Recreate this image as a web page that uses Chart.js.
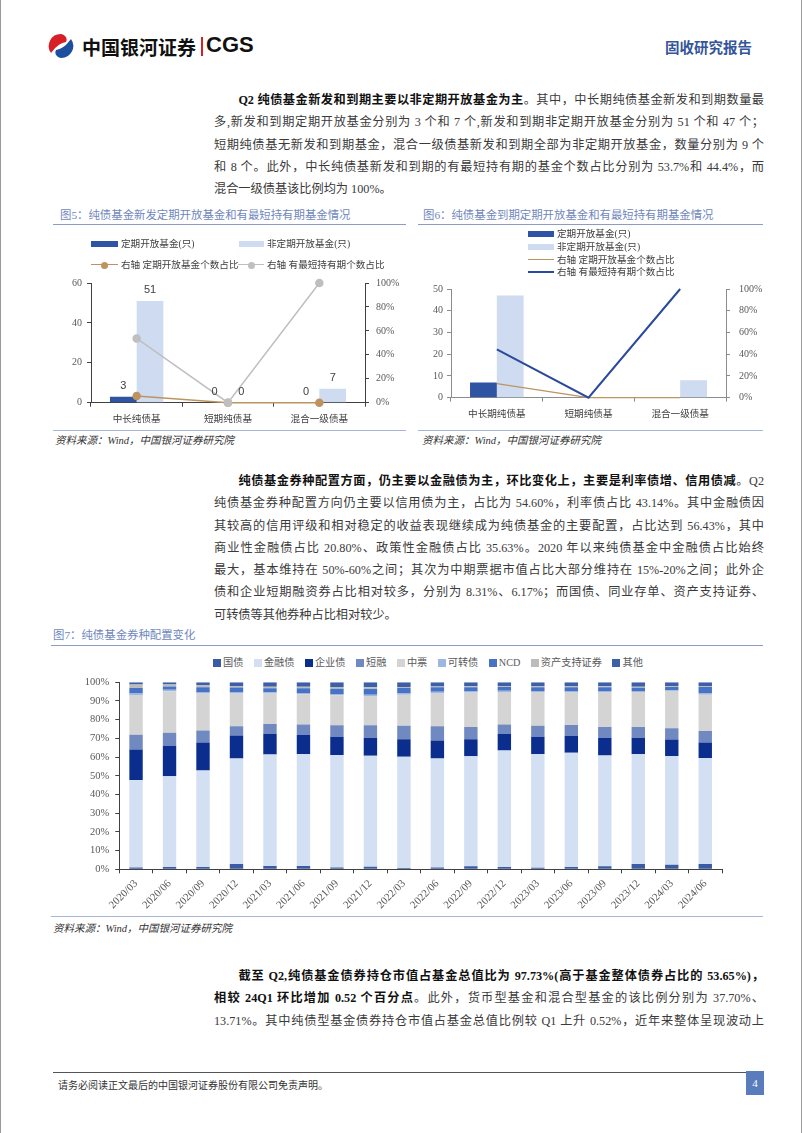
<!DOCTYPE html>
<html lang="zh-CN">
<head>
  <meta charset="utf-8">
  <title>纯债基金券种配置 - 固收研究报告</title>
  <style type="text/css">
    body {
      margin: 0;
      background-color: #ffffff;
    }
    #page {
      position: relative;
      width: 802px;
      height: 1133px;
      overflow: hidden;
      box-sizing: border-box;
      border-left: 1px solid #9a9a9a;
      border-right: 1px solid #9a9a9a;
      font-family: 'Liberation Serif', 'Noto Sans CJK SC', serif;
      color: #3a3a3a;
    }
    .abs { position: absolute; }
    .para { position: absolute; left: 213px; width: 550px; font-size: 12.2px; line-height: 22.3px; }
    .para div { white-space: nowrap; }
    .para .j { text-align: justify; text-align-last: justify; white-space: normal; }
    .para .ind { text-indent: 2em; }
    .para b { color: #111111; }
    .figtitle { position: absolute; font-size: 11.4px; color: #6f87bd; white-space: nowrap; }
    .rule { position: absolute; height: 0; border-top: 1.5px solid #8c9cc4; }
    .source { position: absolute; font-size: 10.5px; font-style: italic; color: #333333; white-space: nowrap; }
    .lg { position: absolute; font-size: 9.6px; color: #404040; white-space: nowrap; line-height: 12px; }
    canvas { position: absolute; }
  </style>
  <script src="https://cdn.jsdelivr.net/npm/chart.js"></script>
</head>
<body>
<div id="page">
  <!-- 页眉 -->
  <svg class="abs" style="left:46px;top:32px" width="28" height="28" viewBox="0 0 28 28">
    <path d="M14 2 A12 12 0 0 0 4 21 C8 16 11 12 19 10 C21 6 18 3 14 2Z" fill="#d71f26"/>
    <path d="M14 26 A12 12 0 0 0 24 7 C20 12 17 16 9 18 C7 22 10 25 14 26Z" fill="#1d4fa0"/>
  </svg>
  <div class="abs" style="left:81px;top:33px;font:bold 19px 'Noto Sans CJK SC';color:#111;white-space:nowrap">中国银河证券</div>
  <div class="abs" style="left:200px;top:37px;width:2px;height:19px;background:#d71f26"></div>
  <div class="abs" style="left:205px;top:32px;font:bold 22px 'Liberation Sans',sans-serif;color:#111">CGS</div>
  <div class="abs" style="left:664px;top:36px;font:bold 14.5px 'Noto Sans CJK SC';color:#34559a;white-space:nowrap">固收研究报告</div>

  <!-- 正文一 -->
  <div class="para" style="top:89px">
    <div class="j ind"><b>Q2 纯债基金新发和到期主要以非定期开放基金为主</b>。其中，中长期纯债基金新发和到期数量最</div>
    <div class="j">多,新发和到期定期开放基金分别为 3 个和 7 个,新发和到期非定期开放基金分别为 51 个和 47 个；</div>
    <div class="j">短期纯债基无新发和到期基金，混合一级债基新发和到期全部为非定期开放基金，数量分别为 9 个</div>
    <div class="j">和 8 个。此外，中长纯债基新发和到期的有最短持有期的基金个数占比分别为 53.7%和 44.4%，而</div>
    <div>混合一级债基该比例均为 100%。</div>
  </div>

  <!-- 图5 -->
  <div class="figtitle" style="left:59px;top:206px">图5：纯债基金新发定期开放基金和有最短持有期基金情况</div>
  <div class="rule" style="left:52px;top:224px;width:353px"></div>
  <canvas id="chart5" width="353" height="160" style="left:52px;top:270px"></canvas>
  <div class="rule" style="left:52px;top:430px;width:353px;border-color:#a8b6d6"></div>
  <div class="source" style="left:54px;top:432px">资料来源：Wind，中国银河证券研究院</div>

  <!-- 图6 -->
  <div class="figtitle" style="left:422px;top:206px">图6：纯债基金到期定期开放基金和有最短持有期基金情况</div>
  <div class="rule" style="left:417px;top:224px;width:345px"></div>
  <canvas id="chart6" width="350" height="156" style="left:412px;top:274px"></canvas>
  <div class="rule" style="left:417px;top:430px;width:345px;border-color:#a8b6d6"></div>
  <div class="source" style="left:421px;top:432px">资料来源：Wind，中国银河证券研究院</div>

  <!-- 正文二 -->
  <div class="para" style="top:470px">
    <div class="j ind"><b>纯债基金券种配置方面，仍主要以金融债为主，环比变化上，主要是利率债增、信用债减</b>。Q2</div>
    <div class="j">纯债基金券种配置方向仍主要以信用债为主，占比为 54.60%，利率债占比 43.14%。其中金融债因</div>
    <div class="j">其较高的信用评级和相对稳定的收益表现继续成为纯债基金的主要配置，占比达到 56.43%，其中</div>
    <div class="j">商业性金融债占比 20.80%、政策性金融债占比 35.63%。2020 年以来纯债基金中金融债占比始终</div>
    <div class="j">最大，基本维持在 50%-60%之间；其次为中期票据市值占比大部分维持在 15%-20%之间；此外企</div>
    <div class="j">债和企业短期融资券占比相对较多，分别为 8.31%、6.17%；而国债、同业存单、资产支持证券、</div>
    <div>可转债等其他券种占比相对较少。</div>
  </div>

  <!-- 图7 -->
  <div class="figtitle" style="left:52px;top:626px">图7：纯债基金券种配置变化</div>
  <div class="rule" style="left:50px;top:645px;width:712px"></div>
  <div id="legend7" class="abs" style="left:212px;top:657px;display:flex;gap:10.5px;font-size:10.2px;line-height:12px;color:#595959;white-space:nowrap"></div>
  <canvas id="chart7" width="710" height="245" style="left:52px;top:670px"></canvas>
  <div class="rule" style="left:50px;top:916px;width:712px;border-color:#a8b6d6"></div>
  <div class="source" style="left:52px;top:920px">资料来源：Wind，中国银河证券研究院</div>

  <!-- 正文三 -->
  <div class="para" style="top:965px">
    <div class="j ind"><b>截至 Q2,纯债基金债券持仓市值占基金总值比为 97.73%(高于基金整体债券占比的 53.65%)，</b></div>
    <div class="j"><b>相较 24Q1 环比增加 0.52 个百分点</b>。此外，货币型基金和混合型基金的该比例分别为 37.70%、</div>
    <div class="j">13.71%。其中纯债型基金债券持仓市值占基金总值比例较 Q1 上升 0.52%，近年来整体呈现波动上</div>
  </div>

  <!-- 页脚 -->
  <div class="abs" style="left:52px;top:1072px;width:711px;border-top:1.5px solid #555"></div>
  <div class="abs" style="left:57px;top:1077px;font-size:10px;color:#333;white-space:nowrap">请务必阅读正文最后的中国银河证券股份有限公司免责声明。</div>
  <div class="abs" style="left:745px;top:1071px;width:18px;height:24px;background:#5b7cbc;color:#fff;font-size:11px;line-height:24px;text-align:center">4</div>
</div>

<script>
  // 图5：新发
  const cat5 = ['中长纯债基', '短期纯债基', '混合一级债基'];
  const open5 = [3, 0, 0];
  const nonOpen5 = [51, 0, 7];
  const openRatio5 = [0.056, 0, 0];
  const minHold5 = [0.537, 0, 1];

  // 图6：到期
  const cat6 = ['中长期纯债基', '短期纯债基', '混合一级债基'];
  const open6 = [7, 0, 0];
  const nonOpen6 = [47, 0, 8];
  const openRatio6 = [0.13, 0, 0];
  const minHold6 = [0.444, 0, 1];

  const names56 = ['定期开放基金(只)', '非定期开放基金(只)', '右轴 定期开放基金个数占比', '右轴 有最短持有期个数占比'];

  // 图7：券种配置(%)
  const dates7 = ['2020/03', '2020/06', '2020/09', '2020/12', '2021/03', '2021/06', '2021/09', '2021/12', '2022/03',
                  '2022/06', '2022/09', '2022/12', '2023/03', '2023/06', '2023/09', '2023/12', '2024/03', '2024/06'];
  const names7 = ['国债', '金融债', '企业债', '短融', '中票', '可转债', 'NCD', '资产支持证券', '其他'];
  const guozhai = [0.9, 1.2, 1.2, 2.8, 1.8, 1.8, 1.0, 1.4, 0.7, 1.0, 1.6, 1.2, 0.8, 1.2, 1.6, 2.8, 2.4, 2.9];
  const jinrong = [46.9, 48.6, 51.7, 56.5, 59.6, 59.8, 60.1, 59.3, 59.5, 58.3, 58.8, 62.3, 60.8, 61.1, 59.3, 58.8, 58.2, 56.6];
  const qiye = [16.2, 16.3, 14.9, 12.2, 10.9, 10.2, 9.8, 9.5, 9.4, 9.6, 9.2, 8.8, 9.3, 9.0, 9.3, 8.6, 8.8, 8.3];
  const duanrong = [8.0, 6.9, 6.4, 5.0, 5.4, 5.7, 6.1, 6.8, 7.2, 7.6, 6.5, 5.2, 5.9, 5.9, 5.9, 5.9, 6.0, 6.2];
  const zhongpiao = [21.0, 22.2, 19.8, 17.5, 16.3, 16.1, 16.1, 15.7, 16.6, 17.8, 18.4, 17.3, 18.0, 17.6, 18.7, 18.7, 19.9, 19.4];
  const kezhuan = [1.0, 0.8, 0.6, 0.8, 0.7, 0.7, 0.7, 0.6, 0.6, 0.7, 0.6, 0.7, 0.6, 0.6, 0.6, 0.6, 0.5, 0.6];
  const ncd = [3.0, 1.8, 2.8, 2.4, 2.1, 2.5, 2.7, 3.1, 3.0, 2.3, 2.3, 2.0, 2.0, 2.0, 1.9, 1.7, 1.7, 3.5];
  const abs = [1.8, 1.0, 1.1, 0.8, 0.8, 0.8, 1.0, 0.9, 0.5, 0.5, 0.5, 0.5, 0.6, 0.6, 0.6, 0.5, 0.5, 0.5];
  const qita = [1.2, 1.2, 1.5, 2.0, 2.4, 2.4, 2.5, 2.7, 2.5, 2.2, 2.1, 2.0, 2.0, 2.0, 2.1, 2.4, 2.0, 2.0];
  const colors7 = ['#3a5ca5', '#d3dff2', '#0b2e8e', '#7089c1', '#d4d4d4', '#9db6e2', '#4673c6', '#bcbcbc', '#3c5fa8'];

  const DARK = '#2f54a3';
  const LIGHT = '#cfdbf0';
  const BROWN = '#bd9460';

  Chart.defaults.animation = false;
  Chart.defaults.font.family = "'Liberation Serif', 'Noto Sans CJK SC', serif";
  Chart.defaults.plugins.legend.display = false;
  Chart.defaults.plugins.tooltip.enabled = false;

  const page = document.getElementById('page');
  function legendItem(x, y, kind, color, text, w) {
    const mark = document.createElement('div');
    mark.className = 'abs';
    if (kind === 'box') {
      mark.style.cssText = 'left:' + x + 'px;top:' + (y - 3) + 'px;width:' + w + 'px;height:6px;background:' + color;
    } else {
      mark.style.cssText = 'left:' + x + 'px;top:' + (y - 0.75) + 'px;width:' + w + 'px;height:0;border-top:' + (kind === 'thick' ? 2 : 1.5) + 'px solid ' + color;
    }
    page.appendChild(mark);
    if (kind === 'dot') {
      const dot = document.createElement('div');
      dot.className = 'abs';
      dot.style.cssText = 'left:' + (x + w / 2 - 3.5) + 'px;top:' + (y - 3.5) + 'px;width:7px;height:7px;border-radius:50%;background:' + color;
      page.appendChild(dot);
    }
    const t = document.createElement('div');
    t.className = 'lg';
    t.style.left = (x + w + 3) + 'px';
    t.style.top = (y - 6) + 'px';
    t.textContent = text;
    page.appendChild(t);
  }
  // 图5图例
  legendItem(90, 243.5, 'box', DARK, names56[0], 27);
  legendItem(238, 243.5, 'box', LIGHT, names56[1], 25);
  legendItem(90, 265, 'dot', BROWN, names56[2], 27);
  legendItem(237, 265, 'dot', '#bfbfbf', names56[3], 26);
  // 图6图例
  legendItem(527, 234.3, 'box', DARK, names56[0], 26);
  legendItem(527, 246.7, 'box', LIGHT, names56[1], 26);
  legendItem(527, 260, 'line', BROWN, names56[2], 26);
  legendItem(527, 272, 'thick', '#2b4a9b', names56[3], 26);
  // 图7图例
  const lg7 = document.getElementById('legend7');
  names7.forEach(function (n, i) {
    const s = document.createElement('span');
    s.innerHTML = '<span style="display:inline-block;width:8px;height:8px;margin-right:2px;vertical-align:-1px;background:' + colors7[i] + '"></span>' + n;
    lg7.appendChild(s);
  });

  // 柱顶数值
  const valueLabels = {
    id: 'valueLabels',
    afterDatasetsDraw(chart) {
      const ctx = chart.ctx;
      ctx.save();
      ctx.font = "11px 'Liberation Sans', sans-serif";
      ctx.fillStyle = '#404040';
      ctx.textAlign = 'center';
      ctx.textBaseline = 'alphabetic';
      chart.data.datasets.forEach(function (ds, i) {
        if (ds.type !== 'bar') return;
        chart.getDatasetMeta(i).data.forEach(function (bar, j) {
          ctx.fillText(ds.data[j], bar.x, bar.y - 8);
        });
      });
      ctx.restore();
    }
  };

  function axisStyle(color, pad, size) {
    return {
      grid: { drawOnChartArea: false, tickLength: 4, color: color },
      border: { color: color, width: 1 },
      ticks: { padding: pad, color: '#595959', font: { size: size } }
    };
  }

  function comboChart(id, labels, open, nonOpen, ratio, minHold, opt) {
    const x = axisStyle(opt.axis, 7.5, 9.6);
    x.ticks.color = '#404040';
    x.afterFit = function (s) { s.height = opt.xh; };
    const y = axisStyle(opt.axis, opt.lpad, 10);
    y.position = 'left'; y.min = 0; y.max = opt.ymax; y.ticks.stepSize = opt.step;
    y.afterFit = function (s) { s.width = 38; };
    const y1 = axisStyle(opt.axis, opt.rpad, 10);
    y1.position = 'right'; y1.min = 0; y1.max = 1; y1.ticks.stepSize = 0.2;
    y1.ticks.callback = function (v) { return Math.round(v * 100) + '%'; };
    y1.afterFit = function (s) { s.width = opt.rw; };
    return new Chart(document.getElementById(id), {
      type: 'bar',
      data: {
        labels: labels,
        datasets: [
          { type: 'bar', label: names56[0], data: open, backgroundColor: DARK, yAxisID: 'y', order: 2,
            categoryPercentage: 0.585, barPercentage: 1 },
          { type: 'bar', label: names56[1], data: nonOpen, backgroundColor: LIGHT, yAxisID: 'y', order: 2,
            categoryPercentage: 0.585, barPercentage: 1 },
          { type: 'line', label: names56[2], data: ratio, borderColor: BROWN, backgroundColor: BROWN,
            borderWidth: opt.dots ? 1.5 : 1.2, pointRadius: opt.dots ? 3.5 : 0, yAxisID: 'y1', order: 1, clip: false },
          { type: 'line', label: names56[3], data: minHold, borderColor: opt.c4, backgroundColor: opt.c4,
            borderWidth: opt.dots ? 1.5 : 2, pointRadius: opt.dots ? 3.5 : 0, yAxisID: 'y1', order: 0, clip: false }
        ]
      },
      options: {
        responsive: false,
        devicePixelRatio: 1,
        layout: { padding: { top: opt.top, left: 0, right: 0, bottom: 0 } },
        scales: { x: x, y: y, y1: y1 }
      },
      plugins: opt.dots ? [valueLabels] : []
    });
  }

  comboChart('chart5', cat5, open5, nonOpen5, openRatio5, minHold5,
    { axis: '#404040', ymax: 60, step: 20, lpad: 5, rpad: 7, rw: 41, xh: 27.3, top: 6.7, dots: true, c4: '#bfbfbf' });
  comboChart('chart6', cat6, open6, nonOpen6, openRatio6, minHold6,
    { axis: '#8c8c8c', ymax: 50, step: 10, lpad: 4, rpad: 9, rw: 37, xh: 32.3, top: 6.7, dots: false, c4: '#2b4a9b' });

  // 图7
  const series7 = [guozhai, jinrong, qiye, duanrong, zhongpiao, kezhuan, ncd, abs, qita];
  new Chart(document.getElementById('chart7'), {
    type: 'bar',
    data: {
      labels: dates7,
      datasets: series7.map(function (d, i) {
        return { label: names7[i], data: d, backgroundColor: colors7[i], categoryPercentage: 1, barPercentage: 0.4 };
      })
    },
    options: {
      responsive: false,
      devicePixelRatio: 1,
      layout: { padding: { top: 6.7, right: 41, left: 0, bottom: 0 } },
      scales: {
        x: {
          stacked: true,
          grid: { drawOnChartArea: false, tickLength: 4, color: '#404040' },
          border: { color: '#404040' },
          ticks: { autoSkip: false, maxRotation: 45, minRotation: 45, padding: 4, color: '#595959', font: { size: 10.8 } },
          afterFit: function (s) { s.height = 45.7; }
        },
        y: {
          stacked: true, min: 0, max: 100,
          grid: { drawOnChartArea: false, tickLength: 4, color: '#404040' },
          border: { color: '#404040' },
          ticks: { stepSize: 10, padding: 6, color: '#595959', font: { size: 10.5 },
                   callback: function (v) { return v + '%'; } },
          afterFit: function (s) { s.width = 66.3; }
        }
      }
    }
  });
</script>
</body>
</html>
